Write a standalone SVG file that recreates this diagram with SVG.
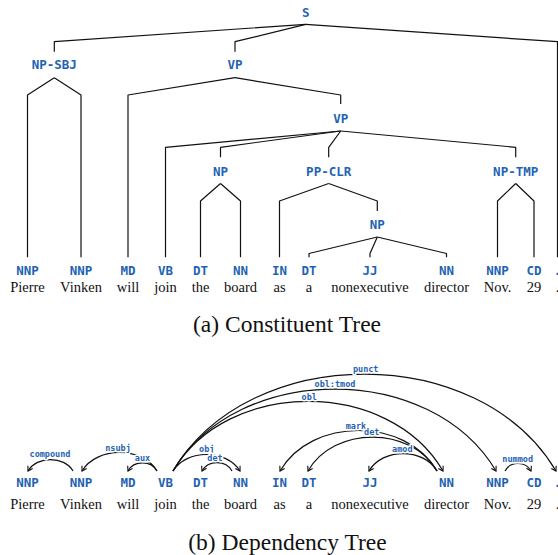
<svg xmlns="http://www.w3.org/2000/svg" width="558" height="555" viewBox="0 0 558 555">
<defs>
<style>
.nt{font-family:"DejaVu Sans Mono","Liberation Mono",monospace;font-weight:bold;font-size:12.5px;fill:#1f63b4;text-anchor:middle}
.pos{font-family:"DejaVu Sans Mono","Liberation Mono",monospace;font-weight:bold;font-size:12.5px;fill:#1f63b4;text-anchor:middle}
.w{font-family:"Liberation Serif","Times New Roman",serif;font-size:14.5px;fill:#111;text-anchor:middle}
.cap{font-family:"Liberation Serif","Times New Roman",serif;font-size:23.5px;fill:#111;text-anchor:middle}
.tl{fill:none;stroke:#111;stroke-width:1.2;stroke-linejoin:round}
.arc{fill:none;stroke:#111;stroke-width:1.2;marker-end:url(#ah)}
.el{font-family:"DejaVu Sans Mono","Liberation Mono",monospace;font-weight:bold;font-size:8.5px;fill:#1f63b4;text-anchor:middle;stroke:#fff;stroke-width:3;paint-order:stroke;stroke-linejoin:round}
</style>
<marker id="ah" viewBox="-6 -4 8 8" refX="0" refY="0" markerWidth="8" markerHeight="8" markerUnits="userSpaceOnUse" orient="auto">
<path d="M-4.5,-2.8 L0,0 L-4.5,2.8" fill="none" stroke="#111" stroke-width="1.1"/>
</marker>
</defs>
<rect width="558" height="555" fill="#fff"/>

<!-- Constituent tree connectors -->
<g id="const-connectors">
<path class="tl" d="M305.7,24.3 L54.3,41.7 L54.3,51.7"/>
<path class="tl" d="M305.7,24.3 L235,41.7 L235,51.7"/>
<path class="tl" d="M305.7,24.3 L557.5,41.7 L557.5,257.3"/>
<path class="tl" d="M54.3,77.7 L27.5,95 L27.5,257.3"/>
<path class="tl" d="M54.3,77.7 L81,95 L81,257.3"/>
<path class="tl" d="M235,77.7 L128,95 L128,257.3"/>
<path class="tl" d="M235,77.7 L340.7,95 L340.7,104"/>
<path class="tl" d="M340.7,131 L165.5,147.3 L165.5,257.3"/>
<path class="tl" d="M340.7,131 L220.5,147.3 L220.5,157.3"/>
<path class="tl" d="M340.7,131 L328.7,147.3 L328.7,157.3"/>
<path class="tl" d="M340.7,131 L515.7,147.3 L515.7,157.3"/>
<path class="tl" d="M220.5,183.5 L200.5,201 L200.5,257.3"/>
<path class="tl" d="M220.5,183.5 L240.5,201 L240.5,257.3"/>
<path class="tl" d="M328.7,183.5 L279.5,201 L279.5,257.3"/>
<path class="tl" d="M328.7,183.5 L377.3,201 L377.3,211"/>
<path class="tl" d="M515.7,183.5 L497.5,201 L497.5,257.3"/>
<path class="tl" d="M515.7,183.5 L534,201 L534,257.3"/>
<path class="tl" d="M377.3,237 L309,253.5 L309,257.3"/>
<path class="tl" d="M377.3,237 L370,253.5 L370,257.3"/>
<path class="tl" d="M377.3,237 L446.5,253.5 L446.5,257.3"/>
</g>

<!-- Constituent tree nodes -->
<g id="c-S"><text class="nt" x="305.7" y="16.6">S</text></g>
<g id="c-NP-SBJ"><text class="nt" x="54.3" y="69.3">NP-SBJ</text></g>
<g id="c-VP"><text class="nt" x="235" y="69.3">VP</text></g>
<g id="c-VP2"><text class="nt" x="340.7" y="123.3">VP</text></g>
<g id="c-NP"><text class="nt" x="220.5" y="176.3">NP</text></g>
<g id="c-PP-CLR"><text class="nt" x="328.7" y="176.3">PP-CLR</text></g>
<g id="c-NP-TMP"><text class="nt" x="515.7" y="176.3">NP-TMP</text></g>
<g id="c-NP2"><text class="nt" x="377.3" y="229.3">NP</text></g>

<g id="c-t1"><text class="pos" x="27.5" y="274.5">NNP</text><text class="w" x="27.5" y="292">Pierre</text></g>
<g id="c-t2"><text class="pos" x="81" y="274.5">NNP</text><text class="w" x="81" y="292">Vinken</text></g>
<g id="c-t3"><text class="pos" x="128" y="274.5">MD</text><text class="w" x="128" y="292">will</text></g>
<g id="c-t4"><text class="pos" x="165.5" y="274.5">VB</text><text class="w" x="165.5" y="292">join</text></g>
<g id="c-t5"><text class="pos" x="200.5" y="274.5">DT</text><text class="w" x="200.5" y="292">the</text></g>
<g id="c-t6"><text class="pos" x="240.5" y="274.5">NN</text><text class="w" x="240.5" y="292">board</text></g>
<g id="c-t7"><text class="pos" x="279.5" y="274.5">IN</text><text class="w" x="279.5" y="292">as</text></g>
<g id="c-t8"><text class="pos" x="309" y="274.5">DT</text><text class="w" x="309" y="292">a</text></g>
<g id="c-t9"><text class="pos" x="370" y="274.5">JJ</text><text class="w" x="370" y="292">nonexecutive</text></g>
<g id="c-t10"><text class="pos" x="446.5" y="274.5">NN</text><text class="w" x="446.5" y="292">director</text></g>
<g id="c-t11"><text class="pos" x="497.5" y="274.5">NNP</text><text class="w" x="497.5" y="292">Nov.</text></g>
<g id="c-t12"><text class="pos" x="534" y="274.5">CD</text><text class="w" x="534" y="292">29</text></g>
<g id="c-t13"><text class="pos" x="557.5" y="274.5">.</text><text class="w" x="557.5" y="292">.</text></g>

<text class="cap" x="287" y="332">(a) Constituent Tree</text>

<!-- Dependency tree connectors -->
<g id="dep-connectors">
<path class="arc" d="M73,471 C64,455.7 37,455.7 28,471"/>
<path class="arc" d="M157,471 C142,446.3 97,446.3 82,471"/>
<path class="arc" d="M157,471 C151.2,460.3 133.8,460.3 128,471"/>
<path class="arc" d="M173,471 C186.4,449 226.6,449 240,471"/>
<path class="arc" d="M232,471 C226,459.7 208,459.7 202,471"/>
<path class="arc" d="M173,471 C227,378.3 389,378.3 443,471"/>
<path class="arc" d="M173,471 C237.6,361.7 431.4,361.7 496,471"/>
<path class="arc" d="M173,471 C249.6,341.7 479.4,341.7 556,471"/>
<path class="arc" d="M437,471 C405.6,417 311.4,417 280,471"/>
<path class="arc" d="M437,471 C411.2,425.7 333.8,425.7 308,471"/>
<path class="arc" d="M437,471 C423.4,447.7 382.6,447.7 369,471"/>
<path class="arc" d="M505,471 C510.2,461 525.8,461 531,471"/>
<text class="el" x="50" y="457">compound</text>
<text class="el" x="118" y="450.5">nsubj</text>
<text class="el" x="142.5" y="461.3">aux</text>
<text class="el" x="206.7" y="452">obj</text>
<text class="el" x="215" y="461.3">det</text>
<text class="el" x="309.3" y="399.7">obl</text>
<text class="el" x="335" y="387">obl:tmod</text>
<text class="el" x="365.7" y="372.3">punct</text>
<text class="el" x="356" y="428.7">mark</text>
<text class="el" x="371.7" y="435">det</text>
<text class="el" x="402.3" y="452">amod</text>
<text class="el" x="517.7" y="462">nummod</text>
</g>

<!-- Dependency tree tokens -->
<g id="d-t1"><text class="pos" x="27.5" y="487">NNP</text><text class="w" x="27.5" y="509">Pierre</text></g>
<g id="d-t2"><text class="pos" x="81" y="487">NNP</text><text class="w" x="81" y="509">Vinken</text></g>
<g id="d-t3"><text class="pos" x="128" y="487">MD</text><text class="w" x="128" y="509">will</text></g>
<g id="d-t4"><text class="pos" x="165.5" y="487">VB</text><text class="w" x="165.5" y="509">join</text></g>
<g id="d-t5"><text class="pos" x="200.5" y="487">DT</text><text class="w" x="200.5" y="509">the</text></g>
<g id="d-t6"><text class="pos" x="240.5" y="487">NN</text><text class="w" x="240.5" y="509">board</text></g>
<g id="d-t7"><text class="pos" x="279.5" y="487">IN</text><text class="w" x="279.5" y="509">as</text></g>
<g id="d-t8"><text class="pos" x="309" y="487">DT</text><text class="w" x="309" y="509">a</text></g>
<g id="d-t9"><text class="pos" x="370" y="487">JJ</text><text class="w" x="370" y="509">nonexecutive</text></g>
<g id="d-t10"><text class="pos" x="446.5" y="487">NN</text><text class="w" x="446.5" y="509">director</text></g>
<g id="d-t11"><text class="pos" x="497.5" y="487">NNP</text><text class="w" x="497.5" y="509">Nov.</text></g>
<g id="d-t12"><text class="pos" x="534" y="487">CD</text><text class="w" x="534" y="509">29</text></g>
<g id="d-t13"><text class="pos" x="557.5" y="487">.</text><text class="w" x="557.5" y="509">.</text></g>

<text class="cap" x="287.5" y="549.5">(b) Dependency Tree</text>
</svg>
